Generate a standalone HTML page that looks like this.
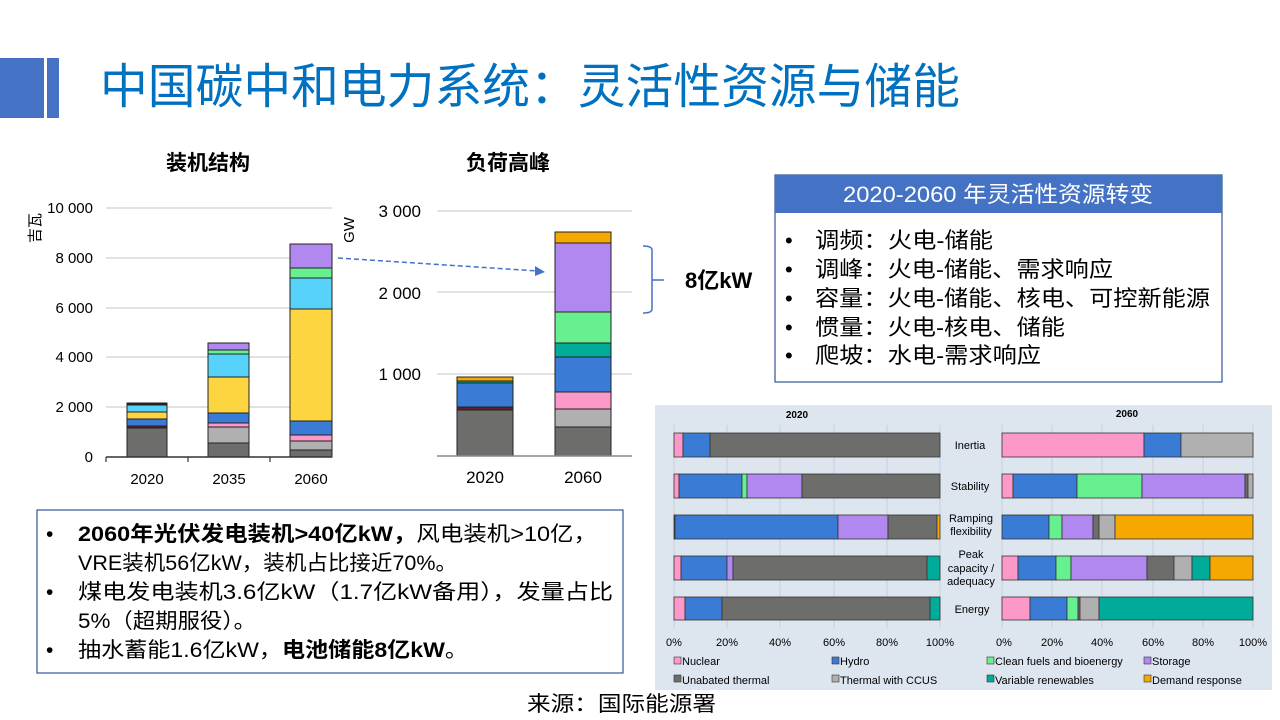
<!DOCTYPE html>
<html><head><meta charset="utf-8"><style>
html,body{margin:0;padding:0;background:#fff;width:1280px;height:720px;overflow:hidden}
svg{display:block;font-family:"Liberation Sans","Noto Sans CJK SC",sans-serif}
</style></head><body>
<svg width="1280" height="720" viewBox="0 0 1280 720" xmlns="http://www.w3.org/2000/svg">
<!-- header -->
<rect x="0" y="58" width="44" height="60" fill="#4472c4"/>
<rect x="47" y="58" width="12" height="60" fill="#4472c4"/>
<text x="100" y="103" font-size="48" fill="#0070c0" textLength="860" lengthAdjust="spacingAndGlyphs">中国碳中和电力系统：灵活性资源与储能</text>

<!-- left chart -->
<text x="208" y="170" font-size="21" font-weight="bold" text-anchor="middle" fill="#000">装机结构</text>
<text transform="translate(40,228) rotate(-90)" font-size="15" text-anchor="middle" fill="#000">吉瓦</text>
<g stroke="#d9d9d9" stroke-width="1.5">
<line x1="106" y1="208" x2="332" y2="208"/><line x1="106" y1="258" x2="332" y2="258"/>
<line x1="106" y1="308" x2="332" y2="308"/><line x1="106" y1="357" x2="332" y2="357"/>
<line x1="106" y1="407" x2="332" y2="407"/></g>
<g font-size="15" text-anchor="end" fill="#000">
<text x="93" y="213">10 000</text><text x="93" y="263">8 000</text><text x="93" y="313">6 000</text>
<text x="93" y="362">4 000</text><text x="93" y="412">2 000</text><text x="93" y="462">0</text></g>
<g stroke="#222" stroke-width="1">
<rect x="127" y="428" width="40" height="29" fill="#6d6e6c"/>
<rect x="127" y="426" width="40" height="2" fill="#5b2333"/>
<rect x="127" y="419" width="40" height="7" fill="#3a7bd5"/>
<rect x="127" y="412" width="40" height="7" fill="#fcd541"/>
<rect x="127" y="405" width="40" height="7" fill="#56d2fb"/>
<rect x="127" y="403" width="40" height="2" fill="#222"/>

<rect x="208" y="443" width="41" height="14" fill="#6d6e6c"/>
<rect x="208" y="427" width="41" height="16" fill="#b0b0b0"/>
<rect x="208" y="423" width="41" height="4" fill="#fd99c9"/>
<rect x="208" y="413" width="41" height="10" fill="#3a7bd5"/>
<rect x="208" y="377" width="41" height="36" fill="#fcd541"/>
<rect x="208" y="354" width="41" height="23" fill="#56d2fb"/>
<rect x="208" y="350" width="41" height="4" fill="#66f090"/>
<rect x="208" y="343" width="41" height="7" fill="#b088ef"/>

<rect x="290" y="450" width="42" height="7" fill="#6d6e6c"/>
<rect x="290" y="441" width="42" height="9" fill="#b0b0b0"/>
<rect x="290" y="435" width="42" height="6" fill="#fd99c9"/>
<rect x="290" y="421" width="42" height="14" fill="#3a7bd5"/>
<rect x="290" y="309" width="42" height="112" fill="#fcd541"/>
<rect x="290" y="278" width="42" height="31" fill="#56d2fb"/>
<rect x="290" y="268" width="42" height="10" fill="#66f090"/>
<rect x="290" y="244" width="42" height="24" fill="#b088ef"/>
</g>
<line x1="106" y1="457" x2="332" y2="457" stroke="#333" stroke-width="1.5"/>
<g stroke="#333" stroke-width="1.2"><line x1="106" y1="457" x2="106" y2="462"/><line x1="188" y1="457" x2="188" y2="462"/><line x1="270" y1="457" x2="270" y2="462"/></g>
<g font-size="15" text-anchor="middle" fill="#000">
<text x="147" y="484">2020</text><text x="229" y="484">2035</text><text x="311" y="484">2060</text></g>

<!-- middle chart -->
<text x="508" y="170" font-size="21" font-weight="bold" text-anchor="middle" fill="#000">负荷高峰</text>
<text transform="translate(354,230) rotate(-90)" font-size="15" text-anchor="middle" fill="#000">GW</text>
<g stroke="#d9d9d9" stroke-width="1.5">
<line x1="437" y1="211" x2="632" y2="211"/><line x1="437" y1="292" x2="632" y2="292"/><line x1="437" y1="374" x2="632" y2="374"/></g>
<g font-size="17" text-anchor="end" fill="#000">
<text x="421" y="217">3 000</text><text x="421" y="299">2 000</text><text x="421" y="380">1 000</text></g>
<g stroke="#222" stroke-width="1">
<rect x="457" y="410" width="56" height="46" fill="#6d6e6c"/>
<rect x="457" y="407" width="56" height="3" fill="#5b2333"/>
<rect x="457" y="383" width="56" height="24" fill="#3a7bd5"/>
<rect x="457" y="381" width="56" height="2" fill="#00ab9a"/>
<rect x="457" y="377" width="56" height="4" fill="#f5a800"/>

<rect x="555" y="427" width="56" height="29" fill="#6d6e6c"/>
<rect x="555" y="409" width="56" height="18" fill="#b0b0b0"/>
<rect x="555" y="392" width="56" height="17" fill="#fd99c9"/>
<rect x="555" y="357" width="56" height="35" fill="#3a7bd5"/>
<rect x="555" y="343" width="56" height="14" fill="#00ab9a"/>
<rect x="555" y="312" width="56" height="31" fill="#66f090"/>
<rect x="555" y="243" width="56" height="69" fill="#b088ef"/>
<rect x="555" y="232" width="56" height="11" fill="#f5a800"/>
</g>
<line x1="437" y1="456" x2="632" y2="456" stroke="#888" stroke-width="1.5"/>
<g font-size="17" text-anchor="middle" fill="#000"><text x="485" y="483">2020</text><text x="583" y="483">2060</text></g>

<!-- arrow -->
<line x1="338" y1="258" x2="538" y2="271" stroke="#4472c4" stroke-width="1.5" stroke-dasharray="5,3"/>
<polygon points="545,272 535,266 535,276" fill="#4472c4"/>
<!-- bracket -->
<path d="M643,246 Q652,246 652,250 L652,309 Q652,313 643,313 M652,280 L664,280" stroke="#4472c4" stroke-width="1.5" fill="none"/>
<text x="685" y="288" font-size="22" font-weight="bold" fill="#000">8亿kW</text>

<!-- top right box -->
<rect x="775" y="175" width="447" height="207" fill="#fff" stroke="#2f5597" stroke-width="1.2"/>
<rect x="775" y="175" width="447" height="38" fill="#4472c4"/>
<text x="843" y="202" font-size="22" fill="#fff" textLength="310" lengthAdjust="spacingAndGlyphs">2020-2060 年灵活性资源转变</text>
<g font-size="22" fill="#000">
<text x="785" y="248">•</text><text x="815" y="248" textLength="178" lengthAdjust="spacingAndGlyphs">调频：火电-储能</text>
<text x="785" y="277">•</text><text x="815" y="277" textLength="298" lengthAdjust="spacingAndGlyphs">调峰：火电-储能、需求响应</text>
<text x="785" y="306">•</text><text x="815" y="306" textLength="395" lengthAdjust="spacingAndGlyphs">容量：火电-储能、核电、可控新能源</text>
<text x="785" y="335">•</text><text x="815" y="335" textLength="250" lengthAdjust="spacingAndGlyphs">惯量：火电-核电、储能</text>
<text x="785" y="363">•</text><text x="815" y="363" textLength="226" lengthAdjust="spacingAndGlyphs">爬坡：水电-需求响应</text>
</g>

<!-- bottom-right chart -->
<rect x="655" y="405" width="617" height="285" fill="#dde5ef"/>
<g font-size="10" font-weight="bold" text-anchor="middle" fill="#000"><text x="797" y="418">2020</text><text x="1127" y="417">2060</text></g>
<g stroke="#c5cfdb" stroke-width="1">
<line x1="674" y1="425" x2="674" y2="628"/><line x1="727" y1="425" x2="727" y2="628"/><line x1="780" y1="425" x2="780" y2="628"/><line x1="834" y1="425" x2="834" y2="628"/><line x1="887" y1="425" x2="887" y2="628"/><line x1="940" y1="425" x2="940" y2="628"/>
<line x1="1002" y1="425" x2="1002" y2="628"/><line x1="1052" y1="425" x2="1052" y2="628"/><line x1="1102" y1="425" x2="1102" y2="628"/><line x1="1153" y1="425" x2="1153" y2="628"/><line x1="1203" y1="425" x2="1203" y2="628"/><line x1="1253" y1="425" x2="1253" y2="628"/>
</g>
<g stroke="#333" stroke-width="0.8">
<rect x="674" y="433" width="9" height="24" fill="#fd99c9"/><rect x="683" y="433" width="27" height="24" fill="#3a7bd5"/><rect x="710" y="433" width="230" height="24" fill="#6d6e6c"/>
<rect x="1002" y="433" width="142" height="24" fill="#fd99c9"/><rect x="1144" y="433" width="37" height="24" fill="#3a7bd5"/><rect x="1181" y="433" width="72" height="24" fill="#b0b0b0"/>
<rect x="674" y="474" width="5" height="24" fill="#fd99c9"/><rect x="679" y="474" width="63" height="24" fill="#3a7bd5"/><rect x="742" y="474" width="5" height="24" fill="#66f090"/><rect x="747" y="474" width="55" height="24" fill="#b088ef"/><rect x="802" y="474" width="138" height="24" fill="#6d6e6c"/>
<rect x="1002" y="474" width="11" height="24" fill="#fd99c9"/><rect x="1013" y="474" width="64" height="24" fill="#3a7bd5"/><rect x="1077" y="474" width="65" height="24" fill="#66f090"/><rect x="1142" y="474" width="103" height="24" fill="#b088ef"/><rect x="1245" y="474" width="3" height="24" fill="#6d6e6c"/><rect x="1248" y="474" width="5" height="24" fill="#b0b0b0"/>
<rect x="674" y="515" width="1" height="24" fill="#6d6e6c"/><rect x="675" y="515" width="163" height="24" fill="#3a7bd5"/><rect x="838" y="515" width="50" height="24" fill="#b088ef"/><rect x="888" y="515" width="49" height="24" fill="#6d6e6c"/><rect x="937" y="515" width="3" height="24" fill="#f5a800"/>
<rect x="1002" y="515" width="47" height="24" fill="#3a7bd5"/><rect x="1049" y="515" width="13" height="24" fill="#66f090"/><rect x="1062" y="515" width="31" height="24" fill="#b088ef"/><rect x="1093" y="515" width="6" height="24" fill="#6d6e6c"/><rect x="1099" y="515" width="16" height="24" fill="#b0b0b0"/><rect x="1115" y="515" width="138" height="24" fill="#f5a800"/>
<rect x="674" y="556" width="7" height="24" fill="#fd99c9"/><rect x="681" y="556" width="46" height="24" fill="#3a7bd5"/><rect x="727" y="556" width="6" height="24" fill="#b088ef"/><rect x="733" y="556" width="194" height="24" fill="#6d6e6c"/><rect x="927" y="556" width="13" height="24" fill="#00ab9a"/>
<rect x="1002" y="556" width="16" height="24" fill="#fd99c9"/><rect x="1018" y="556" width="38" height="24" fill="#3a7bd5"/><rect x="1056" y="556" width="15" height="24" fill="#66f090"/><rect x="1071" y="556" width="76" height="24" fill="#b088ef"/><rect x="1147" y="556" width="27" height="24" fill="#6d6e6c"/><rect x="1174" y="556" width="18" height="24" fill="#b0b0b0"/><rect x="1192" y="556" width="18" height="24" fill="#00ab9a"/><rect x="1210" y="556" width="43" height="24" fill="#f5a800"/>
<rect x="674" y="597" width="11" height="23" fill="#fd99c9"/><rect x="685" y="597" width="37" height="23" fill="#3a7bd5"/><rect x="722" y="597" width="208" height="23" fill="#6d6e6c"/><rect x="930" y="597" width="10" height="23" fill="#00ab9a"/>
<rect x="1002" y="597" width="28" height="23" fill="#fd99c9"/><rect x="1030" y="597" width="37" height="23" fill="#3a7bd5"/><rect x="1067" y="597" width="11" height="23" fill="#66f090"/><rect x="1078" y="597" width="2" height="23" fill="#6d6e6c"/><rect x="1080" y="597" width="19" height="23" fill="#b0b0b0"/><rect x="1099" y="597" width="154" height="23" fill="#00ab9a"/>
</g>
<g font-size="11" text-anchor="middle" fill="#000">
<text x="970" y="449">Inertia</text><text x="970" y="490">Stability</text>
<text x="971" y="522">Ramping</text><text x="971" y="535">flexibility</text>
<text x="971" y="558">Peak</text><text x="971" y="572">capacity /</text><text x="971" y="585">adequacy</text>
<text x="972" y="613">Energy</text>
</g>
<g font-size="11" text-anchor="middle" fill="#000">
<text x="674" y="646">0%</text><text x="727" y="646">20%</text><text x="780" y="646">40%</text><text x="834" y="646">60%</text><text x="887" y="646">80%</text><text x="940" y="646">100%</text>
<text x="1004" y="646">0%</text><text x="1052" y="646">20%</text><text x="1102" y="646">40%</text><text x="1153" y="646">60%</text><text x="1203" y="646">80%</text><text x="1253" y="646">100%</text>
</g>
<g font-size="11" fill="#000" stroke="#333" stroke-width="0.6">
<rect x="674" y="657" width="7" height="7" fill="#fd99c9"/><rect x="832" y="657" width="7" height="7" fill="#3a7bd5"/><rect x="987" y="657" width="7" height="7" fill="#66f090"/><rect x="1144" y="657" width="7" height="7" fill="#b088ef"/>
<rect x="674" y="675" width="7" height="7" fill="#6d6e6c"/><rect x="832" y="675" width="7" height="7" fill="#b0b0b0"/><rect x="987" y="675" width="7" height="7" fill="#00ab9a"/><rect x="1144" y="675" width="7" height="7" fill="#f5a800"/>
</g>
<g font-size="11" fill="#000">
<text x="682" y="665">Nuclear</text><text x="840" y="665">Hydro</text><text x="995" y="665">Clean fuels and bioenergy</text><text x="1152" y="665">Storage</text>
<text x="682" y="684">Unabated thermal</text><text x="840" y="684">Thermal with CCUS</text><text x="995" y="684">Variable renewables</text><text x="1152" y="684">Demand response</text>
</g>

<!-- bottom-left box -->
<rect x="37" y="510" width="586" height="163" fill="#fff" stroke="#2f5597" stroke-width="1.2"/>
<g font-size="21" fill="#000">
<text x="46" y="541">•</text>
<text x="78" y="541" textLength="519" lengthAdjust="spacingAndGlyphs"><tspan font-weight="bold">2060年光伏发电装机&gt;40亿kW，</tspan>风电装机&gt;10亿，</text>
<text x="78" y="570" textLength="379" lengthAdjust="spacingAndGlyphs">VRE装机56亿kW，装机占比接近70%。</text>
<text x="46" y="599">•</text>
<text x="78" y="599" textLength="535" lengthAdjust="spacingAndGlyphs">煤电发电装机3.6亿kW（1.7亿kW备用），发量占比</text>
<text x="78" y="628" textLength="178" lengthAdjust="spacingAndGlyphs">5%（超期服役）。</text>
<text x="46" y="657">•</text>
<text x="78" y="657" textLength="390" lengthAdjust="spacingAndGlyphs">抽水蓄能1.6亿kW，<tspan font-weight="bold">电池储能8亿kW</tspan>。</text>
</g>
<text x="527" y="711" font-size="21" fill="#000" textLength="189" lengthAdjust="spacingAndGlyphs">来源：国际能源署</text>
</svg>
</body></html>
